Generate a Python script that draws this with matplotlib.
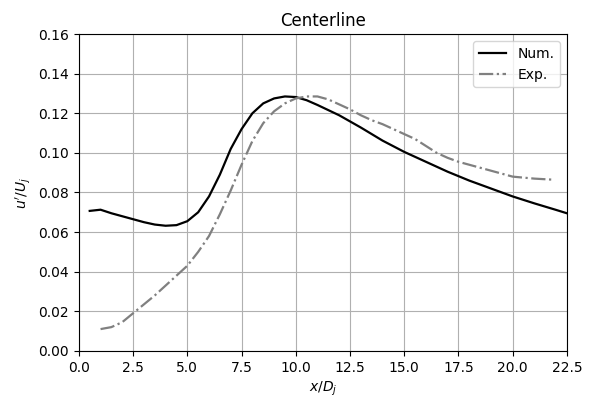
import matplotlib
matplotlib.use('Agg')
import matplotlib.pyplot as plt

# numerical centerline profile
x_num = [0.5, 1.0, 1.5, 2.0, 2.5, 3.0, 3.5, 4.0, 4.5, 5.0, 5.5, 6.0, 6.5, 7.0,
         7.5, 8.0, 8.5, 9.0, 9.5, 10.0, 10.5, 11.0, 12.0, 13.0, 14.0, 15.0,
         16.0, 17.0, 18.0, 19.0, 20.0, 21.0, 22.0, 22.5]
u_num = [0.0707, 0.0713, 0.0695, 0.0680, 0.0665, 0.0650, 0.0638, 0.0632, 0.0635,
         0.0655, 0.0700, 0.0780, 0.0890, 0.1020, 0.1120, 0.1200, 0.1250, 0.1275,
         0.1285, 0.1282, 0.1266, 0.1242, 0.1190, 0.1128, 0.1062, 0.1005, 0.0955,
         0.0905, 0.0860, 0.0820, 0.0780, 0.0745, 0.0712, 0.0695]

# experimental centerline profile
x_exp = [1.0, 1.5, 2.0, 2.5, 3.0, 3.5, 4.0, 4.5, 5.0, 5.5, 6.0, 6.5, 7.0, 7.5,
         8.0, 8.5, 9.0, 9.5, 10.0, 10.5, 11.0, 11.5, 12.0, 12.5, 13.0, 13.5,
         14.0, 14.5, 15.0, 15.5, 16.0, 16.5, 17.0, 17.5, 18.0, 18.5, 19.0,
         19.5, 20.0, 20.5, 21.0, 21.8]
u_exp = [0.0110, 0.0120, 0.0145, 0.0190, 0.0235, 0.0280, 0.0330, 0.0380, 0.0430,
         0.0500, 0.0580, 0.0690, 0.0810, 0.0940, 0.1060, 0.1150, 0.1210, 0.1250,
         0.1275, 0.1285, 0.1285, 0.1270, 0.1245, 0.1220, 0.1190, 0.1165, 0.1145,
         0.1120, 0.1095, 0.1070, 0.1035, 0.1000, 0.0975, 0.0955, 0.0940, 0.0925,
         0.0910, 0.0895, 0.0880, 0.0875, 0.0870, 0.0865]

fig, ax = plt.subplots(figsize=(5.93, 4.01), dpi=100)
fig.subplots_adjust(left=0.133, right=0.956, top=0.915, bottom=0.125)
ax.plot(x_num, u_num, color='black', linestyle='-', linewidth=1.6, label='Num.')
ax.plot(x_exp, u_exp, color='gray', linestyle='-.', linewidth=1.6, label='Exp.')
ax.set_xlim(0, 22.5)
ax.set_ylim(0, 0.16)
ax.set_xticks([0, 2.5, 5, 7.5, 10, 12.5, 15, 17.5, 20, 22.5])
ax.set_xlabel('$x/D_j$')
ax.set_ylabel("$u'/U_j$")
ax.set_title('Centerline')
ax.grid(True)
ax.legend(loc='upper right')
fig.savefig('out.png', dpi=100)
